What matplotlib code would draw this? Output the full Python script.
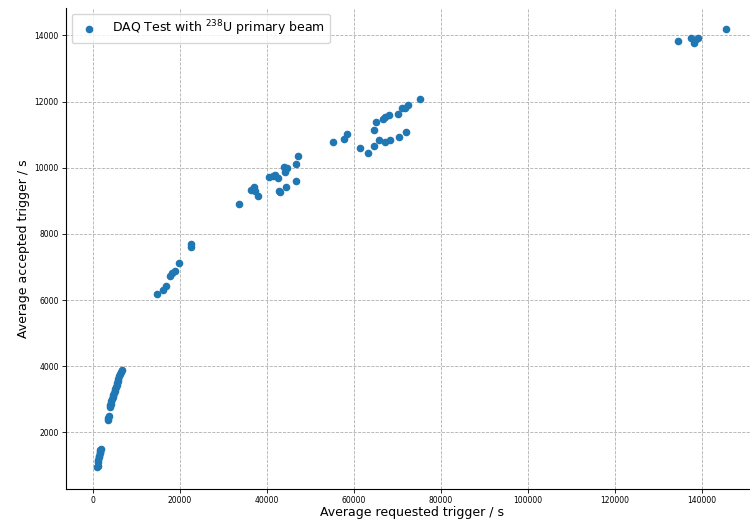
import matplotlib
matplotlib.use('Agg')
import matplotlib.pyplot as plt

# average trigger rates per run (requested vs accepted), per second
requested = [
    1000, 1100, 1250, 1300, 1400, 1500, 1550, 1650, 1750, 1800,
    3400, 3500, 3650, 3900, 4000, 4150, 4300, 4450, 4600, 4750, 4850,
    5000, 5200, 5350, 5500, 5600, 5750, 5900, 6050, 6250, 6500, 6800,
    14780, 16160, 16770, 17850, 18230, 18840, 19920, 22610, 22610,
    33730, 36270, 37030, 37190, 37880,
    40480, 41490, 41800, 42550, 42780, 42940, 44320,
    43930, 44710, 44090, 46780, 46780, 47240,
    55210, 57750, 58370, 61430, 63370, 64660, 64660, 65210, 65900,
    66660, 67280, 67190, 68110, 68340, 70270, 70410, 71190, 71730,
    72490, 72030, 75250,
    134590, 137580, 138200, 138400, 139260, 145640,
]
accepted = [
    950, 980, 1100, 1180, 1250, 1300, 1370, 1420, 1460, 1490,
    2380, 2440, 2500, 2780, 2820, 2870, 2940, 3000, 3060, 3120, 3180,
    3240, 3300, 3380, 3440, 3500, 3560, 3620, 3700, 3780, 3840, 3900,
    6173, 6303, 6433, 6727, 6827, 6888, 7130, 7688, 7615,
    8918, 9333, 9433, 9312, 9142,
    9706, 9758, 9788, 9688, 9312, 9252, 9415,
    10021, 9991, 9858, 10112, 9597, 10342,
    10779, 10870, 11021, 10597, 10455, 10657, 11130, 11394, 10848,
    11485, 11527, 10767, 11588, 10848, 11627, 10918, 11818, 11809,
    11900, 11082, 12082,
    13839, 13909, 13778, 13860, 13909, 14182,
]

fig = plt.figure(figsize=(7.5, 5.22), dpi=100)
ax = fig.add_axes([0.0876, 0.0632, 0.9225, 0.9224])

ax.scatter(requested, accepted, s=20, color='tab:blue',
           label='DAQ Test with $^{238}$U primary beam', zorder=3)

ax.grid(True, linestyle='--', color='#b0b0b0', linewidth=0.6)
ax.set_axisbelow(True)
ax.spines['top'].set_visible(False)
ax.spines['right'].set_visible(False)

ax.set_xlabel('Average requested trigger / s', fontsize=9, labelpad=1)
ax.set_ylabel('Average accepted trigger / s', fontsize=9, labelpad=3)
ax.tick_params(labelsize=5.5, length=3, width=0.6, pad=2)
ax.set_yticks([2000, 4000, 6000, 8000, 10000, 12000, 14000])

ax.legend(loc='upper left', fontsize=9, scatterpoints=1)

fig.savefig('out.png', dpi=100)
